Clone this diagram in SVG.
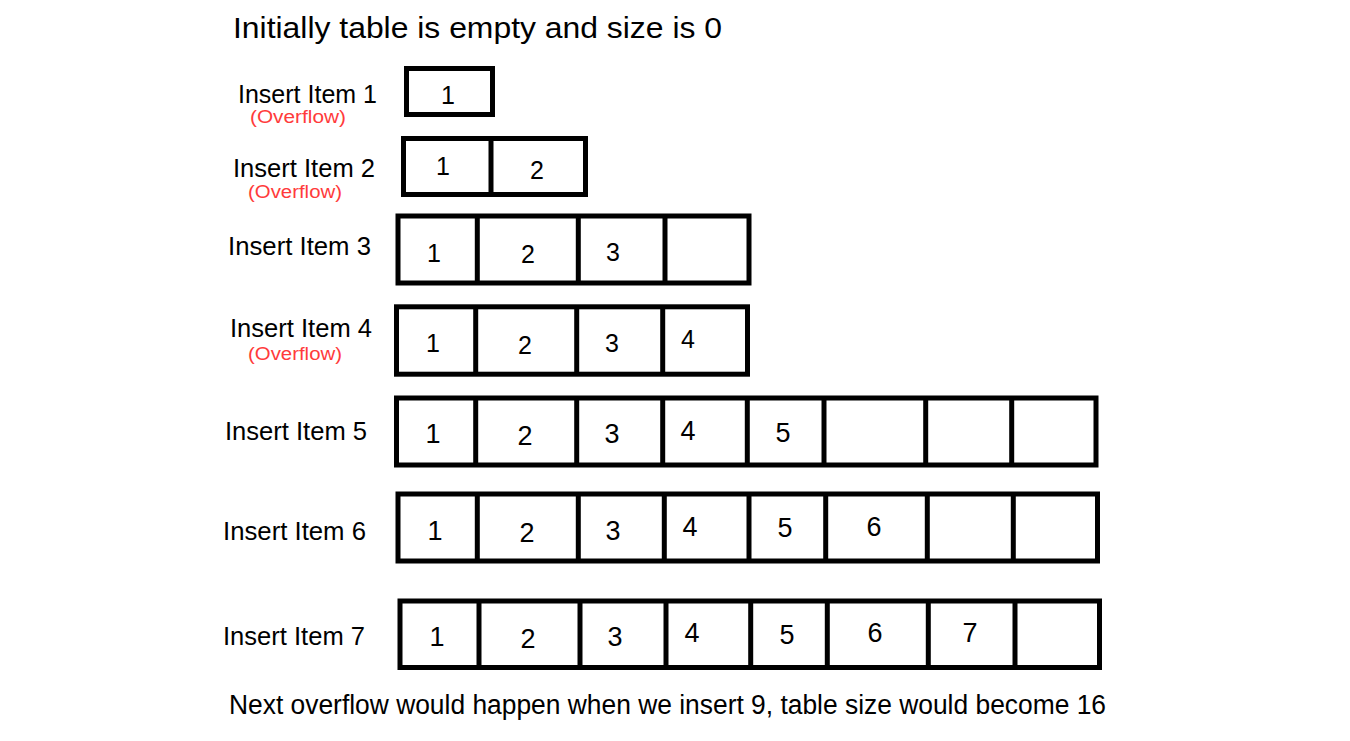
<svg xmlns="http://www.w3.org/2000/svg" width="1350" height="741" viewBox="0 0 1350 741">
<style>
.box{fill:#fff;stroke:#000;stroke-width:5}
.div{stroke:#000;stroke-width:5}
.lbl{font-family:"Liberation Sans",Arial,sans-serif;font-size:26px;fill:#000}
.ovf{font-family:"Liberation Sans",Arial,sans-serif;font-size:18px;fill:#ff3b3b}
.dg{font-family:"Liberation Sans",Arial,sans-serif;font-size:25px;fill:#000;text-anchor:middle}
.dn{font-family:"Liberation Sans",Arial,sans-serif;font-size:27px;fill:#000;text-anchor:middle}
.big{font-family:"Liberation Sans",Arial,sans-serif;font-size:29px;fill:#000}
</style>
<rect width="1350" height="741" fill="#fff"/>
<text class="big" x="233" y="38" textLength="489" lengthAdjust="spacingAndGlyphs">Initially table is empty and size is 0</text>
<g id="row1">
<text class="lbl" x="238" y="103" textLength="139" lengthAdjust="spacingAndGlyphs">Insert Item 1</text>
<text class="ovf" x="250" y="123" textLength="96" lengthAdjust="spacingAndGlyphs">(Overflow)</text>
<rect class="box" x="406.5" y="68.5" width="86" height="46"/>
<text class="dg" x="448" y="104">1</text>
</g>
<g id="row2">
<text class="lbl" x="233" y="177" textLength="142" lengthAdjust="spacingAndGlyphs">Insert Item 2</text>
<text class="ovf" x="248" y="198" textLength="94" lengthAdjust="spacingAndGlyphs">(Overflow)</text>
<rect class="box" x="403.5" y="138.5" width="182" height="56"/>
<line class="div" x1="491" y1="138.5" x2="491" y2="194.5"/>
<text class="dg" x="443" y="175">1</text>
<text class="dg" x="537" y="179">2</text>
</g>
<g id="row3">
<text class="lbl" x="228" y="255" textLength="143" lengthAdjust="spacingAndGlyphs">Insert Item 3</text>
<rect class="box" x="398" y="216" width="351" height="67"/>
<line class="div" x1="477.3" y1="216" x2="477.3" y2="283"/>
<line class="div" x1="578.3" y1="216" x2="578.3" y2="283"/>
<line class="div" x1="665" y1="216" x2="665" y2="283"/>
<text class="dg" x="434" y="262">1</text>
<text class="dg" x="528" y="263">2</text>
<text class="dg" x="613" y="261">3</text>
</g>
<g id="row4">
<text class="lbl" x="230" y="337" textLength="142" lengthAdjust="spacingAndGlyphs">Insert Item 4</text>
<text class="ovf" x="248" y="360" textLength="94" lengthAdjust="spacingAndGlyphs">(Overflow)</text>
<rect class="box" x="396.5" y="306.8" width="351" height="67.4"/>
<line class="div" x1="475.7" y1="306.8" x2="475.7" y2="374.2"/>
<line class="div" x1="576.7" y1="306.8" x2="576.7" y2="374.2"/>
<line class="div" x1="662.7" y1="306.8" x2="662.7" y2="374.2"/>
<text class="dg" x="433" y="352">1</text>
<text class="dg" x="525" y="354">2</text>
<text class="dg" x="612" y="352">3</text>
<text class="dg" x="688" y="348">4</text>
</g>
<g id="row5">
<text class="lbl" x="225" y="440" textLength="142" lengthAdjust="spacingAndGlyphs">Insert Item 5</text>
<rect class="box" x="396.5" y="398" width="699.5" height="67"/>
<line class="div" x1="475.7" y1="398" x2="475.7" y2="465"/>
<line class="div" x1="576.7" y1="398" x2="576.7" y2="465"/>
<line class="div" x1="662.7" y1="398" x2="662.7" y2="465"/>
<line class="div" x1="747.3" y1="398" x2="747.3" y2="465"/>
<line class="div" x1="824" y1="398" x2="824" y2="465"/>
<line class="div" x1="925.7" y1="398" x2="925.7" y2="465"/>
<line class="div" x1="1011.7" y1="398" x2="1011.7" y2="465"/>
<text class="dn" x="433" y="443">1</text>
<text class="dn" x="525" y="445">2</text>
<text class="dn" x="612" y="443">3</text>
<text class="dn" x="688" y="440">4</text>
<text class="dn" x="783" y="442">5</text>
</g>
<g id="row6">
<text class="lbl" x="223" y="540" textLength="143" lengthAdjust="spacingAndGlyphs">Insert Item 6</text>
<rect class="box" x="398" y="494" width="699.5" height="67"/>
<line class="div" x1="477.3" y1="494" x2="477.3" y2="561"/>
<line class="div" x1="578.3" y1="494" x2="578.3" y2="561"/>
<line class="div" x1="664.3" y1="494" x2="664.3" y2="561"/>
<line class="div" x1="749" y1="494" x2="749" y2="561"/>
<line class="div" x1="825.7" y1="494" x2="825.7" y2="561"/>
<line class="div" x1="927.3" y1="494" x2="927.3" y2="561"/>
<line class="div" x1="1013.3" y1="494" x2="1013.3" y2="561"/>
<text class="dn" x="435" y="540">1</text>
<text class="dn" x="527" y="542">2</text>
<text class="dn" x="613" y="540">3</text>
<text class="dn" x="690" y="536">4</text>
<text class="dn" x="785" y="537">5</text>
<text class="dn" x="874" y="536">6</text>
</g>
<g id="row7">
<text class="lbl" x="223" y="645" textLength="142" lengthAdjust="spacingAndGlyphs">Insert Item 7</text>
<rect class="box" x="400" y="601" width="699.5" height="66.5"/>
<line class="div" x1="479" y1="601" x2="479" y2="667.5"/>
<line class="div" x1="580" y1="601" x2="580" y2="667.5"/>
<line class="div" x1="666" y1="601" x2="666" y2="667.5"/>
<line class="div" x1="750.7" y1="601" x2="750.7" y2="667.5"/>
<line class="div" x1="827.3" y1="601" x2="827.3" y2="667.5"/>
<line class="div" x1="928.3" y1="601" x2="928.3" y2="667.5"/>
<line class="div" x1="1015" y1="601" x2="1015" y2="667.5"/>
<text class="dn" x="437" y="646">1</text>
<text class="dn" x="528" y="648">2</text>
<text class="dn" x="615" y="646">3</text>
<text class="dn" x="692" y="642">4</text>
<text class="dn" x="787" y="644">5</text>
<text class="dn" x="875" y="642">6</text>
<text class="dn" x="970" y="642">7</text>
</g>
<g id="connectors"/>
<text class="big" x="229" y="714" font-size="27" style="font-size:27px" textLength="877" lengthAdjust="spacingAndGlyphs">Next overflow would happen when we insert 9, table size would become 16</text>
</svg>
